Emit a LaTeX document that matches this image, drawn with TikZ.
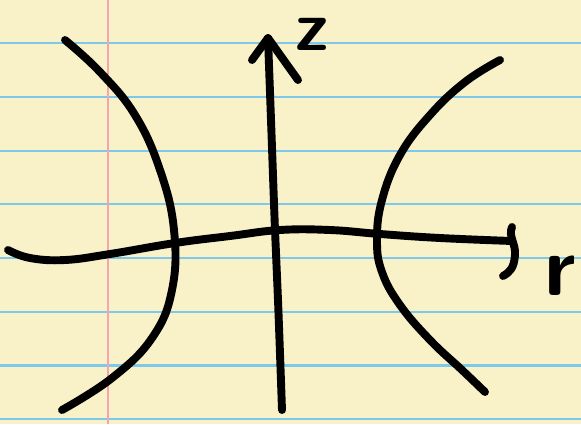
\documentclass[tikz,border=0pt]{standalone}
\usepackage{fontspec}
\usepackage{tikz}
\usetikzlibrary{positioning}
\definecolor{PadYellow}{RGB}{249,241,200}
\definecolor{RuleBlue}{RGB}{125,200,235}
\definecolor{MarginRed}{RGB}{245,165,175}
\tikzset{
  ink/.style={line width=4.5pt, line cap=round, line join=round, black},
  rule/.style={line width=1.2pt, RuleBlue},
  axlabel/.style={font=\sffamily\bfseries\fontsize{40}{40}\selectfont, inner sep=0pt},
}
\begin{document}
\begin{tikzpicture}[x=0.02cm, y=-0.02cm]
  % paper
  \fill[PadYellow] (0,0) rectangle (581,424);
  \useasboundingbox (0,0) rectangle (581,424);
  \foreach \i in {0,...,7}
    \draw[rule] (0,{43.3+53.7*\i}) -- (581,{43.3+53.7*\i});
  \draw[line width=1.2pt, MarginRed] (108,0) -- (108,424);
  % hyperbola branches
  \draw[ink] plot[smooth, tension=0.7] coordinates {(65,40) (100,72) (135,115) (160,170) (174,230) (172,290) (152,338) (112,378) (62,410)};
  \draw[ink] plot[smooth, tension=0.7] coordinates {(500,60) (465,82) (430,115) (400,155) (382,200) (377,240) (382,272) (400,305) (430,340) (462,370) (485,392)};
  % z axis
  \coordinate (zbot) at (282,410);
  \coordinate (ztip) at (268,38);
  \draw[ink] plot[smooth, tension=0.7] coordinates {(zbot) (278,300) (275,230) (271,120) (ztip)};
  \draw[ink] (252,60) -- (ztip) -- (298,80);
  \node[axlabel] (zlab) at (312,34) {z};
  % r axis
  \coordinate (rleft) at (8,250);
  \coordinate (rtip) at (512,241);
  \draw[ink] plot[smooth, tension=0.7] coordinates {(rleft) (30,258) (65,260) (110,254) (175,243) (230,236) (280,230) (330,230) (380,234) (440,238) (rtip)};
  \draw[ink] (512,227) .. controls (508,236) and (516,244) .. (515,255) .. controls (514,268) and (510,272) .. (503,276);
  \node[axlabel, font=\sffamily\bfseries\fontsize{48}{48}\selectfont] (rlab) at (560,276) {r};
\end{tikzpicture}
\end{document}
